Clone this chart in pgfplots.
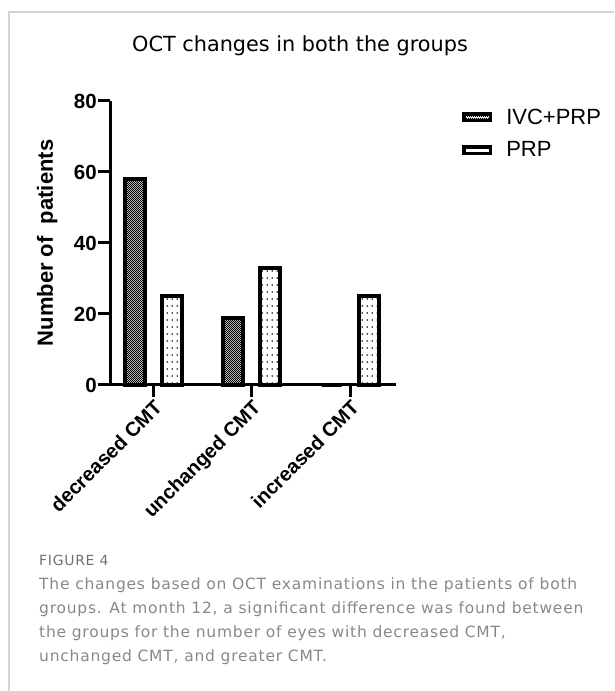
\documentclass[border=0pt]{standalone}
\usepackage{fontspec}
\setmainfont{Liberation Sans}
\newfontfamily\titlefont{DejaVu Sans}
\newfontfamily\capfont[LetterSpace=5]{DejaVu Sans}
\usepackage{pgfplots}
\pgfplotsset{compat=1.18}
\usetikzlibrary{patterns.meta}
\definecolor{framegray}{HTML}{D4D4D4}
\definecolor{capgray}{HTML}{888888}
\definecolor{figgray}{HTML}{707070}
\pgfdeclarepattern{name=checker, type=uncolored,
  bottom left={\pgfpoint{0pt}{0pt}}, top right={\pgfpoint{2.4pt}{2.4pt}},
  tile size={\pgfpoint{2.4pt}{2.4pt}},
  code={\pgfpathrectangle{\pgfpoint{0pt}{0pt}}{\pgfpoint{1.4pt}{1.4pt}}
        \pgfpathrectangle{\pgfpoint{1.2pt}{1.2pt}}{\pgfpoint{1.2pt}{1.2pt}}
        \pgfusepath{fill}}}
\pgfdeclarepattern{name=sparsedots, type=uncolored,
  bottom left={\pgfpoint{0pt}{0pt}}, top right={\pgfpoint{5pt}{6.5pt}},
  tile size={\pgfpoint{5pt}{6.5pt}},
  code={\pgfpathrectangle{\pgfpoint{2pt}{2.5pt}}{\pgfpoint{1.4pt}{1.4pt}}
        \pgfusepath{fill}}}
\begin{document}
\begin{tikzpicture}[x=1pt,y=1pt]
\useasboundingbox (0,0) rectangle (614,691);
% frame
\draw[framegray, line width=1.5pt] (9,0) -- (9,679) -- (614,679);
% title
\node[anchor=base west, inner sep=0pt, font=\titlefont\fontsize{20.8}{24}\selectfont] at (132,639) {OCT changes in both the groups};
\begin{axis}[
  at={(110pt,306pt)}, anchor=south west,
  scale only axis, width=286pt, height=284pt,
  xmin=-0.437, xmax=2.467, ymin=0, ymax=80,
  axis x line*=bottom, axis y line*=left,
  axis line style={-, line width=3pt, black},
  tick align=outside, major tick length=12pt,
  tick style={line width=3pt, black},
  xtick={0,1,2}, xticklabels={decreased CMT,unchanged CMT,increased CMT},
  xticklabel style={rotate=45, anchor=north east, font=\bfseries\fontsize{20}{22}\selectfont, inner sep=1pt},
  ytick={0,20,40,60,80}, yticklabels={0,20,40,60,80},
  yticklabel style={font=\bfseries\fontsize{20.5}{22}\selectfont, inner sep=1pt},
  ylabel={Number of\ \ patients},
  ylabel style={font=\bfseries\fontsize{22}{24}\selectfont, at={(axis description cs:-0.22,0.5)}, anchor=center},
  ybar, bar width=20pt,
  legend style={at={(axis description cs:1.231,0.98)}, anchor=north west, draw=none, fill=none,
    font=\fontsize{22}{24}\selectfont, row sep=12pt, inner sep=0pt,
    nodes={inner sep=2pt}},
  legend cell align=left,
  legend image code/.code={\draw[#1, line width=3.5pt] (0pt,-3.25pt) rectangle (26.5pt,3.25pt);},
  clip=false,
]
\addplot[bar shift=-18.5pt, draw=black, line width=4pt, pattern={checker}, pattern color=black]
  coordinates {(0,58) (1,19) (2,0)};
\addlegendentry{\hspace{12pt}IVC+PRP}
\addplot[bar shift=18.5pt, draw=black, line width=4pt, pattern={sparsedots}, pattern color=black]
  coordinates {(0,25) (1,33) (2,25)};
\addlegendentry{\hspace{12pt}PRP}
\end{axis}
% caption
\node[anchor=base west, inner sep=0pt, text=figgray, font=\capfont\fontsize{14}{16}\selectfont] at (39,125) {FIGURE 4};
\node[anchor=base west, inner sep=0pt, text=capgray, font=\capfont\fontsize{15.5}{18}\selectfont] at (39,101) {The changes based on OCT examinations in the patients of both};
\node[anchor=base west, inner sep=0pt, text=capgray, font=\capfont\fontsize{15.5}{18}\selectfont] at (39,77) {groups. At month 12, a significant difference was found between};
\node[anchor=base west, inner sep=0pt, text=capgray, font=\capfont\fontsize{15.5}{18}\selectfont] at (39,53) {the groups for the number of eyes with decreased CMT,};
\node[anchor=base west, inner sep=0pt, text=capgray, font=\capfont\fontsize{15.5}{18}\selectfont] at (39,29) {unchanged CMT, and greater CMT.};
\end{tikzpicture}
\end{document}
